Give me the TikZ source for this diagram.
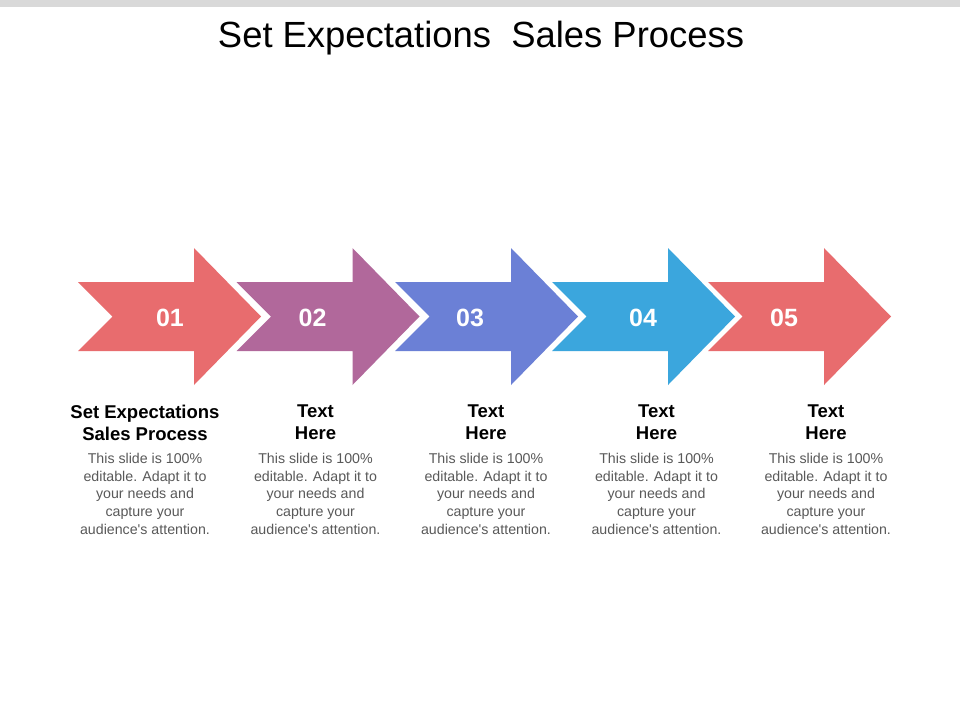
\documentclass[tikz,border=0pt]{standalone}
\usepackage{fontspec}
\setmainfont{Liberation Sans}
\definecolor{cred}{HTML}{E86C6E}
\definecolor{cpurple}{HTML}{B1689B}
\definecolor{cblue}{HTML}{6B80D6}
\definecolor{ccyan}{HTML}{3BA6DD}
\definecolor{cbar}{HTML}{D9D9D9}
\definecolor{cbody}{HTML}{595959}
\tikzset{
  numtxt/.style={text=white, font=\fontsize{25}{30}\selectfont\bfseries, inner sep=0pt, anchor=base},
  headtxt/.style={text=black, font=\fontsize{18.5}{22}\selectfont\bfseries, inner sep=0pt, anchor=north, align=center},
  bodytxt/.style={text=cbody, font=\fontsize{14.2}{17.75}\selectfont, inner sep=0pt, anchor=north, align=center},
}
\newcommand{\steparrow}[2]{%
  \fill[#2] (#1,282) -- (#1+116,282) -- (#1+116,248) -- (#1+183,316.5) -- (#1+116,385) -- (#1+116,351) -- (#1,351) -- (#1+34.5,316.5) -- cycle;}
\begin{document}
\begin{tikzpicture}[x=1pt,y=-1pt]
\useasboundingbox (0,0) rectangle (960,720);
\fill[white] (0,0) rectangle (960,720);
\fill[cbar] (0,0) rectangle (960,7);
\node[inner sep=0pt, anchor=base, font=\fontsize{36.4}{40}\selectfont] (title) at (481,47.3) {Set Expectations\ \ Sales Process};
\steparrow{78}{cred}
\steparrow{236.5}{cpurple}
\steparrow{395}{cblue}
\steparrow{552}{ccyan}
\steparrow{708}{cred}
\node[numtxt] (n1) at (170,326.7) {01};
\node[numtxt] (n2) at (312.5,326.7) {02};
\node[numtxt] (n3) at (470,326.7) {03};
\node[numtxt] (n4) at (643,326.7) {04};
\node[numtxt] (n5) at (784,326.7) {05};
\node[headtxt] (h1) at (145,405) {Set Expectations\\Sales Process};
\node[headtxt] (h2) at (315.5,405) {Text\\Here};
\node[headtxt] (h3) at (486,405) {Text\\Here};
\node[headtxt] (h4) at (656.5,405) {Text\\Here};
\node[headtxt] (h5) at (826,405) {Text\\Here};
\foreach \i/\x in {1/145,2/315.5,3/486,4/656.5,5/826}{
  \node[bodytxt] (b\i) at (\x,453) {This slide is 100\%\\editable. Adapt\ it to\\your needs and\\capture your\\audience\textquotesingle s attention.};
}
\end{tikzpicture}
\end{document}
